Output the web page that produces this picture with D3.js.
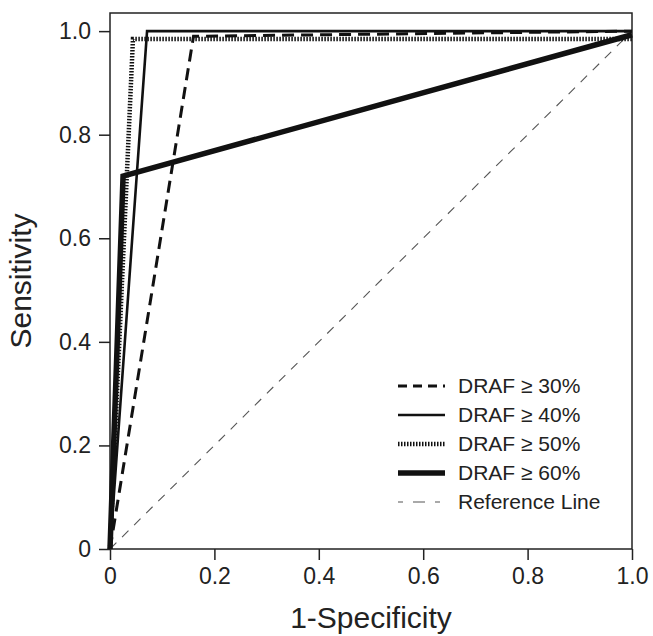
<!DOCTYPE html>
<html>
<head>
<meta charset="utf-8">
<script src="https://cdn.jsdelivr.net/npm/d3@7"></script>
<style>
    body { margin: 0; background: #fff; }
    text { font-family: 'Liberation Sans', Arial, Helvetica, sans-serif; fill: #222; }
</style>
</head>
<body>
<svg width="653" height="636"></svg>
<script>
(function () {
    // ROC curves: [1-specificity, sensitivity]
    const draf30 = [[0, 0], [0.16, 0.99], [1, 1]];
    const draf40 = [[0, 0], [0.071, 1], [1, 1]];
    const draf50 = [[0, 0], [0.044, 0.985], [1, 0.985]];
    const draf60 = [[0, 0], [0.025, 0.72], [1, 0.993]];
    const refLine = [[0, 0], [1, 1]];

    const seriesNames = ['DRAF \u2265 30%', 'DRAF \u2265 40%', 'DRAF \u2265 50%', 'DRAF \u2265 60%', 'Reference Line'];
    const tickValues = [0, 0.2, 0.4, 0.6, 0.8, 1.0];
    const tickLabels = ['0', '0.2', '0.4', '0.6', '0.8', '1.0'];

    const styles = [
        { width: 3, dash: '12,7', color: '#111' },
        { width: 2.6, dash: null, color: '#111' },
        { width: 4.5, dash: '1.5,1.5', color: '#111' },
        { width: 5.5, dash: null, color: '#111' },
        { width: 1.1, dash: '9,8', color: '#555' }
    ];
    const series = [draf30, draf40, draf50, draf60, refLine];

    const svg = d3.select('svg');
    const margin = { left: 110, top: 13, right: 21, bottom: 87 };
    const width = +svg.attr('width') - margin.left - margin.right,
            height = +svg.attr('height') - margin.top - margin.bottom;

    const x = d3.scaleLinear().domain([0, 1]).range([0, width]);
    // y box reaches a bit over 1.0, like the original
    const y = d3.scaleLinear().domain([0, 1.035]).range([height, 0]);

    const g = svg.append('g')
            .attr('transform', `translate(${margin.left},${margin.top})`);

    const fmt = d => tickLabels[tickValues.indexOf(d)];

    const xAxis = g.append('g')
            .attr('transform', `translate(0,${height})`)
            .call(d3.axisBottom(x).tickValues(tickValues).tickFormat(fmt).tickSize(11).tickPadding(8));
    const yAxis = g.append('g')
            .call(d3.axisLeft(y).tickValues(tickValues).tickFormat(fmt).tickSize(11).tickPadding(8));

    [xAxis, yAxis].forEach(a => {
        a.select('.domain').remove();
        a.selectAll('line').attr('stroke', '#222').attr('stroke-width', 1.5);
        a.selectAll('text').style('font-size', '23px').attr('fill', '#222');
    });

    // box
    g.append('rect')
            .attr('width', width)
            .attr('height', height)
            .attr('fill', 'none')
            .attr('stroke', '#222')
            .attr('stroke-width', 1.5);

    const line = d3.line()
            .x(d => x(d[0]))
            .y(d => y(d[1]));

    // reference line first so curves sit on top
    const order = [4, 0, 2, 1, 3];
    order.forEach(i => {
        g.append('path')
                .datum(series[i])
                .attr('d', line)
                .attr('fill', 'none')
                .attr('stroke', styles[i].color)
                .attr('stroke-width', styles[i].width)
                .attr('stroke-dasharray', styles[i].dash)
                .attr('stroke-linejoin', 'miter');
    });

    // legend
    const legend = g.append('g')
            .attr('transform', `translate(${288},${373})`);
    seriesNames.forEach((name, i) => {
        const row = legend.append('g').attr('transform', `translate(0,${i * 29})`);
        row.append('line')
                .attr('x1', 0).attr('x2', 47)
                .attr('stroke', styles[i].color)
                .attr('stroke-width', styles[i].width)
                .attr('stroke-dasharray', i === 4 ? '5,10,12,10,5' : (i === 0 ? '9,6' : styles[i].dash));
        row.append('text')
                .attr('x', 60)
                .attr('dy', '0.35em')
                .style('font-size', '21px')
                .text(name);
    });

    // axis titles
    g.append('text')
            .attr('x', width / 2)
            .attr('y', height + 79)
            .attr('text-anchor', 'middle')
            .style('font-size', '30px')
            .text('1-Specificity');

    g.append('text')
            .attr('transform', `translate(${-79},${height / 2}) rotate(-90)`)
            .attr('text-anchor', 'middle')
            .style('font-size', '30px')
            .text('Sensitivity');
})();
</script>
</body>
</html>
